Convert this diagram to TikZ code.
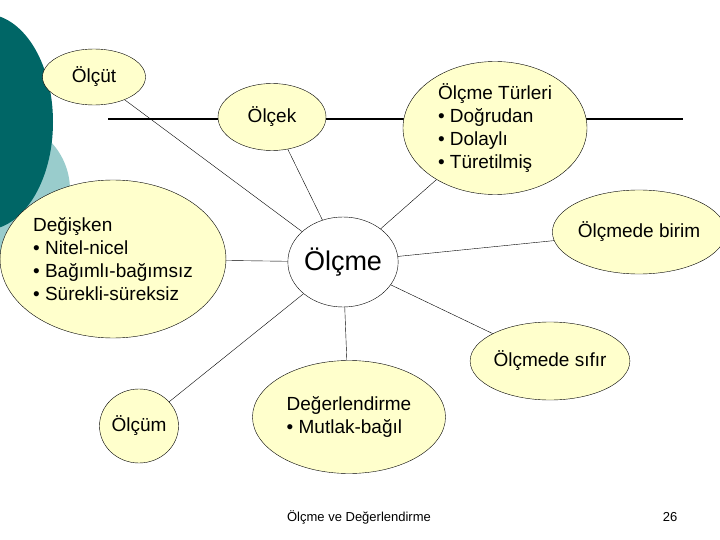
\documentclass[tikz,border=0pt]{standalone}
\usepackage{fontspec}
\setmainfont{Liberation Sans}
\usetikzlibrary{shapes.geometric,backgrounds}
\definecolor{ell}{HTML}{FFFFCC}
\definecolor{teal1}{HTML}{006666}
\definecolor{teal2}{HTML}{99CCCC}
\begin{document}
\begin{tikzpicture}[x=1pt,y=-1pt,
  el/.style={ellipse,draw,fill=ell,inner sep=0pt,font=\fontsize{19}{23}\selectfont},
  ln/.style={draw,thin}]
\useasboundingbox (0,0) rectangle (720,540);
\fill[teal2] (0,190) circle (70);
\fill[teal1] (-15,122) ellipse (68 and 108);
\node[el,minimum width=103pt,minimum height=56pt] (olcut) at (94,77) {Ölçüt};
\node[el,minimum width=108pt,minimum height=67pt] (olcek) at (272,117) {Ölçek};
\node[el,minimum width=184pt,minimum height=133pt,align=left] (tur) at (495,128) {Ölçme Türleri\\• Doğrudan\\• Dolaylı\\• Türetilmiş};
\node[el,minimum width=220pt,minimum height=158pt,align=left] (deg) at (113,259) {Değişken\\• Nitel-nicel\\• Bağımlı-bağımsız\\• Sürekli-süreksiz};
\node[ellipse,draw,fill=white,minimum width=101pt,minimum height=90pt,inner sep=0pt,font=\fontsize{27}{30}\selectfont] (olcme) at (343,262) {Ölçme};
\node[el,minimum width=162pt,minimum height=84pt] (birim) at (639,232) {Ölçmede birim};
\node[el,minimum width=154pt,minimum height=78pt] (sifir) at (550,361) {Ölçmede sıfır};
\node[el,minimum width=79pt,minimum height=74pt] (olcum) at (139,426) {Ölçüm};
\node[el,minimum width=193pt,minimum height=113pt,align=left] (degr) at (349,417) {Değerlendirme\\• Mutlak-bağıl};
\coordinate (hl) at (108,119);
\coordinate (hr) at (683,119);
\node[font=\fontsize{13}{15}\selectfont] (foot) at (359,517) {Ölçme ve Değerlendirme};
\node[font=\fontsize{13}{15}\selectfont] (pg) at (670,517) {26};
\begin{scope}[on background layer]
\draw[line width=1.5pt] (hl) -- (hr);
\draw[ln] (olcme) -- (olcut);
\draw[ln] (olcme) -- (olcek);
\draw[ln] (olcme) -- (tur);
\draw[ln] (olcme) -- (deg);
\draw[ln] (olcme) -- (birim);
\draw[ln] (olcme) -- (sifir);
\draw[ln] (olcme) -- (olcum);
\draw[ln] (olcme) -- (degr);
\end{scope}
\end{tikzpicture}
\end{document}
